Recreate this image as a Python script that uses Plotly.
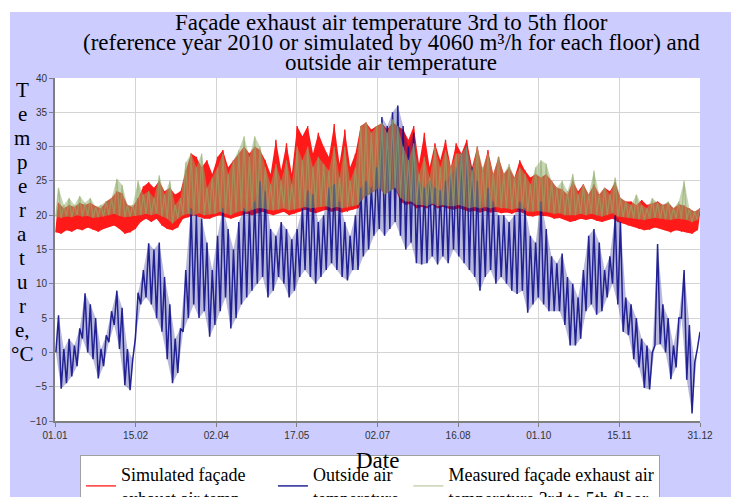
import plotly.graph_objects as go

# ---------------- data (3-day blocks: low / high) ----------------
block_start_day = list(range(0, 366, 3))  # 122 blocks, day-of-year 2010

sim_low = [17.5, 17.3, 17.8, 17.6, 18.0, 17.8, 18.2, 17.9, 17.6, 18.0, 18.3, 18.5, 18.0, 17.3, 17.5, 18.0,
           19.0, 19.5, 19.0, 19.5, 18.5, 18.0, 17.8, 18.2, 19.5, 19.7, 20.0, 19.8, 19.5, 19.5,
           19.8, 20.0, 19.7, 19.5, 19.8, 20.0, 20.2, 20.0, 20.3, 20.5,
           20.2, 20.0, 20.3, 20.5, 20.0, 20.2, 20.5, 20.8, 20.5, 20.3, 20.6, 20.8, 20.5, 20.7, 20.4, 20.5, 20.8, 21.0, 22.5, 23.0,
           23.5, 24.0, 23.0, 23.5, 24.0, 22.0, 21.5, 21.7, 21.0, 21.2, 21.0, 21.5, 21.0, 21.2, 21.0, 20.8, 21.0, 20.8, 20.5, 20.6,
           20.4, 20.6, 20.4, 20.5, 20.3, 20.4, 20.2, 20.5, 20.4, 19.9, 19.8, 20.0, 19.9, 19.8, 19.5, 19.6, 19.3, 19.0, 19.2, 19.5,
           19.3, 19.5, 19.2, 19.0, 19.3, 19.5, 19.0, 18.8, 18.5, 18.3, 18.0, 17.8, 17.9, 18.2, 18.0, 17.8, 17.5, 17.8, 17.6, 17.5,
           17.3, 17.8]
sim_high = [21.8, 21.0, 21.5, 21.2, 21.8, 21.5, 21.8, 21.3, 21.0, 22.0, 22.5, 23.5, 23.2, 21.5, 21.2, 22.5,
            24.2, 24.8, 24.0, 25.0, 23.5, 24.0, 23.0, 23.5, 26.5, 29.0, 28.5, 27.0, 28.0, 26.0,
            28.5, 29.5, 27.0, 28.0, 29.0, 30.0, 29.0, 30.0, 29.5, 28.0,
            26.0, 31.0, 26.5, 30.5, 26.0, 33.0, 31.5, 33.0, 29.0, 32.0, 30.0, 28.5, 33.3, 27.5, 32.5, 27.0, 29.0, 33.0, 33.5, 32.5,
            33.0, 33.4, 32.5, 33.5, 33.0, 32.5, 31.0, 33.0, 27.5, 32.0, 27.0, 30.5, 28.0, 31.0, 27.0, 30.5, 29.0, 31.0, 27.0, 30.0,
            26.5, 29.5, 26.0, 28.5, 26.0, 27.0, 25.5, 28.0, 26.5, 25.5, 26.0, 25.5, 26.0, 25.0, 24.0, 23.8, 23.0, 25.0, 23.5, 24.5,
            23.0, 24.5, 23.0, 24.0, 23.5, 24.8, 22.5, 22.0, 22.0, 21.5, 22.2, 21.5, 21.8, 22.0, 21.5, 21.8, 21.0, 21.6, 21.4, 21.0,
            20.5, 21.0]

out_low = [0.0, -5.3, -4.5, -3.5, -2.0, 2.0, 0.0, -1.0, -3.8, -2.0, 1.5, 4.0, 0.5, -4.8, -5.5, 2.0,
           7.0, 8.0, 7.0, 5.0, 3.0, -1.0, -4.5, -3.0, 3.0, 5.0, 7.0, 5.0, 6.0, 2.3,
           4.0, 6.0, 8.0, 3.5, 5.0, 7.0, 8.0, 9.0, 10.0, 11.0,
           8.0, 9.0, 11.0, 10.0, 8.0, 9.0, 11.0, 12.0, 11.0, 10.0, 11.0, 12.0, 13.0, 12.0, 11.0, 10.5, 12.0, 12.0, 14.0, 15.0,
           17.0, 18.0, 17.0, 18.0, 19.0, 17.0, 15.0, 16.0, 13.0, 12.8, 13.0, 14.0, 12.8, 14.0, 13.0, 15.0, 14.0, 13.0, 12.0, 11.0,
           9.0, 11.0, 12.0, 10.0, 11.0, 10.0, 9.0, 8.5, 9.0, 5.8, 7.0, 8.0, 7.0, 6.0, 6.0, 6.0, 4.0, 1.0, 1.0, 2.0,
           6.0, 7.0, 5.5, 6.0, 8.0, 10.0, 7.0, 3.0, 2.5, -1.0, -2.2, -5.2, -5.4, 1.0, 1.2, 0.0, -3.9, -2.2, 5.0, -4.0,
           -8.9, 0.5]
out_high = [5.4, 0.5, 2.0, 1.0, 3.5, 8.6, 7.0, 5.0, 0.5, 2.5, 6.0, 9.0, 6.5, 0.5, -1.0, 8.7,
            12.0, 15.9, 15.0, 16.0, 11.0, 7.0, 2.0, 3.5, 12.0, 21.0, 20.0, 19.5, 16.0, 12.0,
            17.0, 21.0, 18.0, 15.0, 19.0, 21.0, 20.5, 22.0, 25.0, 23.5,
            18.0, 17.0, 19.0, 18.0, 16.5, 18.0, 21.0, 23.6, 23.0, 19.0, 20.0, 24.0, 24.5, 22.0, 19.0, 17.0, 20.0, 24.0, 25.0, 24.0,
            27.0, 34.3, 33.0, 35.0, 36.0, 33.0, 30.0, 32.0, 25.0, 24.0, 25.0, 24.0, 23.6, 25.0, 26.0, 27.0, 29.0, 30.0, 27.0, 25.0,
            21.0, 24.0, 22.0, 20.0, 20.0, 19.0, 20.0, 22.0, 21.0, 17.0, 16.0, 22.0, 18.0, 14.0, 13.0, 14.4, 11.0, 10.0, 8.0, 12.0,
            17.0, 18.0, 16.0, 12.0, 14.0, 20.0, 19.0, 8.0, 7.0, 5.0, 2.0, 1.0, 0.0, 15.8, 7.0, 5.0, 1.0, 5.0, 12.0, 4.0,
            -1.5, 3.0]

meas_low = [19.8, 19.6, 19.8, 19.7, 20.0, 19.8, 19.9, 19.6, 19.7, 19.8, 20.0, 20.2, 19.9, 19.7, 19.8, 19.9,
            20.0, 20.2, 20.0, 20.2, 19.8, 19.5, 18.8, 19.5, 20.0, 20.2, 20.0, 20.3, 20.0, 20.1,
            20.2, 20.5, 20.2, 20.0, 20.4, 20.6, 20.5, 20.8, 21.0, 21.0,
            20.8, 20.7, 20.8, 21.0, 20.7, 20.8, 21.0, 21.2, 21.0, 21.0, 21.2, 21.3, 21.0, 21.2, 21.0, 21.1, 21.3, 21.5, 22.5, 23.0,
            23.5, 24.0, 23.0, 23.5, 24.0, 22.5, 22.0, 22.0, 21.5, 21.5, 21.3, 21.7, 21.3, 21.5, 21.3, 21.3, 21.5, 21.3, 21.0, 21.2,
            21.0, 21.2, 21.0, 21.2, 21.0, 21.0, 20.8, 21.0, 20.9, 20.5, 20.5, 20.6, 20.5, 20.4, 20.2, 20.3, 20.0, 20.0, 20.0, 20.2,
            20.0, 20.2, 20.0, 19.8, 20.0, 20.3, 19.8, 19.7, 19.6, 19.5, 19.4, 19.3, 19.5, 19.6, 19.5, 19.4, 19.3, 19.5, 19.4, 19.3,
            19.0, 19.3]
meas_high = [24.0, 21.5, 22.5, 21.5, 22.8, 21.8, 22.5, 21.2, 21.5, 22.0, 22.5, 25.3, 24.4, 21.5, 21.5, 25.0,
             23.0, 23.5, 22.5, 25.8, 23.0, 25.0, 21.5, 22.5, 27.7, 29.0, 27.0, 29.0, 24.0, 25.5,
             27.0, 29.0, 26.0, 28.0, 29.5, 31.5, 28.5, 31.5, 30.0, 27.0,
             24.5, 27.5, 25.0, 28.0, 24.5, 30.0, 28.0, 30.0, 27.0, 28.5, 27.5, 26.5, 30.0, 25.5, 30.0, 25.0, 27.0, 33.0, 33.5, 32.0,
             33.0, 33.5, 32.0, 34.0, 33.0, 30.0, 28.0, 30.5, 26.0, 28.5, 25.5, 30.0, 27.0, 29.5, 27.0, 29.0, 29.0, 30.0, 26.5, 30.0,
             27.0, 29.0, 26.0, 28.5, 26.0, 27.5, 25.5, 27.0, 26.0, 24.5, 27.0, 28.0, 27.5, 25.0, 24.0, 25.0, 23.5, 26.0, 23.0, 24.5,
             23.0, 26.5, 23.0, 24.0, 23.0, 25.5, 22.5, 22.0, 21.5, 23.0, 21.5, 21.0, 22.5, 21.8, 21.5, 22.0, 21.0, 22.0, 25.0, 21.0,
             20.5, 21.0]

tick_days = [0, 45.625, 91.25, 136.875, 182.5, 228.125, 273.75, 319.375, 365]
tick_labels = ["01.01", "15.02", "02.04", "17.05", "02.07", "16.08", "01.10", "15.11", "31.12"]

series_names = ["Simulated façade\u00a0\u00a0\u00a0\u00a0\u00a0<br>exhaust air temp\u00a0\u00a0\u00a0\u00a0\u00a0",
                "Outside air\u00a0<br>temperature\u00a0",
                "Measured façade exhaust air<br>temperature 3rd to 5th floor"]
title_lines = ["Façade exhaust air temperature 3rd to 5th floor",
               "(reference year 2010 or simulated by 4060 m³/h for each floor) and",
               "outside air temperature"]
ytitle_lines = ["T", "e", "m", "p", "e", "r", "a", "t", "u", "r", "e,", "°C"]


def zigzag(low, high):
    xs, ys = [], []
    for d, lo, hi in zip(block_start_day, low, high):
        xs += [d + 0.5, min(d + 2.0, 365)]
        ys += [lo, hi]
    return xs, ys


def band(low, high):
    xh = [min(d + 2.0, 365) for d in block_start_day]
    xl = [d + 0.5 for d in block_start_day]
    return xh + xl[::-1], list(high) + list(low)[::-1]


# ---------------- figure ----------------
W, H = 731, 497
ML, MR, MT, MB = 55, 31, 78, 76
PW, PH = W - ML - MR, H - MT - MB

def px_x(p):
    return (p - ML) / PW

def px_y(p):
    return (H - MB - p) / PH

fig = go.Figure()
series = [
    (sim_low, sim_high, "rgba(255,26,26,1)", "rgba(255,26,26,1)", 1.3),
    (out_low, out_high, "rgba(20,20,140,0.3)", "rgba(20,20,140,0.92)", 1.5),
    (meas_low, meas_high, "rgba(143,172,106,0.5)", "rgba(143,172,106,0.6)", 1.3),
]
for name, (lo, hi, fillc, linec, lw) in zip(series_names, series):
    bx, by = band(lo, hi)
    fig.add_trace(go.Scatter(x=bx, y=by, mode="lines", fill="toself", fillcolor=fillc,
                             line=dict(width=0, color=fillc), showlegend=False, hoverinfo="skip"))
    zx, zy = zigzag(lo, hi)
    fig.add_trace(go.Scatter(x=zx, y=zy, mode="lines", name=name,
                             line=dict(color=linec, width=lw)))

serif = "Liberation Serif, Times New Roman, serif"
sans = "Liberation Sans, Arial, sans-serif"

annotations = []
for i, t in enumerate(title_lines):
    annotations.append(dict(text=t, x=px_x(391), y=px_y(23 + 19.8 * i), xref="paper", yref="paper",
                            xanchor="center", yanchor="middle", showarrow=False,
                            font=dict(family=serif, size=23, color="#000")))
for i, t in enumerate(ytitle_lines):
    annotations.append(dict(text=t, x=px_x(22), y=px_y(90 + 24.0 * i), xref="paper", yref="paper",
                            xanchor="center", yanchor="middle", showarrow=False,
                            font=dict(family=serif, size=21, color="#000")))
annotations.append(dict(text="Date", x=px_x(377), y=px_y(460), xref="paper", yref="paper",
                        xanchor="center", yanchor="middle", showarrow=False,
                        font=dict(family=serif, size=23, color="#000")))

shapes = [
    dict(type="rect", xref="paper", yref="paper", x0=px_x(0), x1=px_x(W), y0=px_y(12), y1=px_y(0),
         fillcolor="white", line=dict(width=0), layer="below"),
    dict(type="rect", xref="paper", yref="paper", x0=px_x(0), x1=px_x(10), y0=px_y(H), y1=px_y(0),
         fillcolor="white", line=dict(width=0), layer="below"),
]

fig.update_layout(
    width=W, height=H,
    margin=dict(l=ML, r=MR, t=MT, b=MB, autoexpand=False),
    paper_bgcolor="#ccccff",
    plot_bgcolor="white",
    showlegend=True,
    legend=dict(orientation="h", x=px_x(80), y=px_y(455), xanchor="left", yanchor="top",
                bgcolor="white", bordercolor="#a0a0a0", borderwidth=1,
                font=dict(family=serif, size=18, color="#000"),
                itemwidth=30, tracegroupgap=0),
    annotations=annotations,
    shapes=shapes,
    xaxis=dict(range=[0, 365], tickvals=tick_days, ticktext=tick_labels,
               showgrid=True, gridcolor="#d4d4d4", gridwidth=1,
               showline=True, linecolor="#7f7f7f", linewidth=2,
               ticks="outside", ticklen=4, tickcolor="#7f7f7f",
               tickfont=dict(family=sans, size=10, color="#333"), zeroline=False),
    yaxis=dict(range=[-10, 40], tickvals=[-10, -5, 0, 5, 10, 15, 20, 25, 30, 35, 40],
               showgrid=True, gridcolor="#d4d4d4", gridwidth=1,
               showline=True, linecolor="#7f7f7f", linewidth=2,
               ticks="outside", ticklen=4, tickcolor="#7f7f7f",
               tickfont=dict(family=sans, size=10, color="#333"), zeroline=False),
)

fig.write_html("out.html")
